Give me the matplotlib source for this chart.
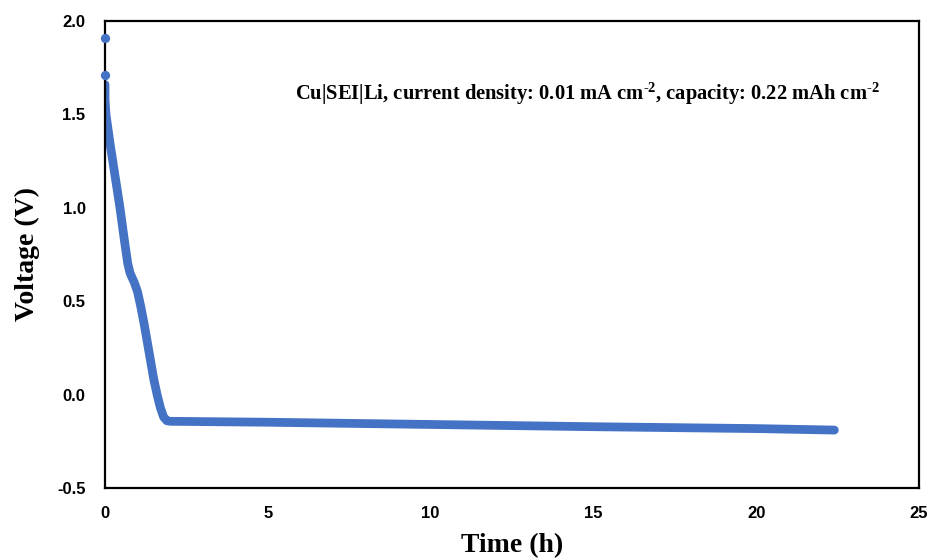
import matplotlib
matplotlib.use("Agg")
import matplotlib.pyplot as plt

# discharge curve, Cu|SEI|Li cell
time_h = [0.0, 0.0, 0.03, 0.15, 0.30, 0.46, 0.60, 0.70, 0.77, 0.90, 1.00, 1.10, 1.20,
          1.30, 1.40, 1.50, 1.60, 1.70, 1.80, 1.90, 2.00, 5.0, 10.0, 15.0, 20.0, 22.4]
voltage = [1.66, 1.58, 1.50, 1.35, 1.18, 1.00, 0.82, 0.70, 0.65, 0.60, 0.55, 0.47, 0.38,
           0.28, 0.18, 0.08, 0.00, -0.07, -0.12, -0.14, -0.143, -0.148, -0.16, -0.172,
           -0.182, -0.19]
# first two readings right at t = 0
start_t = [0.0, 0.0]
start_v = [1.91, 1.71]

xticks = [0, 5, 10, 15, 20, 25]
yticks = [-0.5, 0.0, 0.5, 1.0, 1.5, 2.0]

# superscripts in the note should be bold serif too
plt.rcParams['mathtext.fontset'] = 'custom'
plt.rcParams['mathtext.rm'] = 'Liberation Serif:bold'
plt.rcParams['mathtext.default'] = 'rm'
blue = '#4472C4'

fig = plt.figure(figsize=(9.35, 5.6), dpi=100)
ax = fig.add_axes([0.1123, 0.1286, 0.8706, 0.8339])

ax.plot(time_h, voltage, color=blue, linewidth=6.3, solid_capstyle='round',
        solid_joinstyle='round')
ax.scatter(start_t, start_v, color=blue, s=32, zorder=3, clip_on=False)

ax.set_xlim(0, 25)
ax.set_ylim(-0.5, 2.0)
ax.set_xticks(xticks)
ax.set_yticks(yticks)
ax.set_xticklabels([str(t) for t in xticks])
ax.set_yticklabels([f'{v:.1f}' for v in yticks])
ax.tick_params(length=0, labelsize=12, pad=13)
ax.tick_params(axis='y', pad=14)
for lab in ax.get_xticklabels() + ax.get_yticklabels():
    lab.set_fontweight('bold')
    lab.set_fontfamily(['Liberation Sans Narrow', 'Liberation Sans'])

for sp in ax.spines.values():
    sp.set_linewidth(1.6)

ax.set_xlabel('Time (h)', fontsize=20, fontweight='bold', fontfamily='Liberation Serif',
              labelpad=9)
ax.set_ylabel('Voltage (V)', fontsize=20, fontweight='bold', fontfamily='Liberation Serif',
              labelpad=12)

ax.text(23.8, 1.61,
        r'Cu|SEI|Li, current density: 0.01 mA cm$^{\text{-2}}$, capacity: 0.22 mAh cm$^{\text{-2}}$',
        ha='right', va='center', fontsize=14.8, fontweight='bold',
        fontfamily='Liberation Serif')

fig.savefig('out.png', dpi=100)
